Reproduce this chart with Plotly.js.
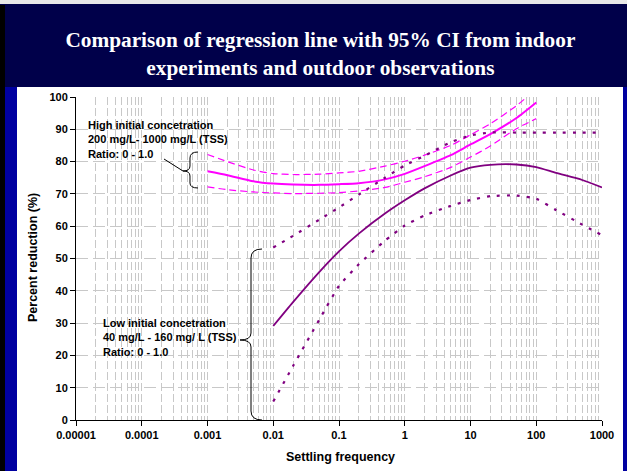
<!DOCTYPE html>
<html><head><meta charset="utf-8">
<script src="https://cdn.plot.ly/plotly-3.0.1.min.js"></script>
<style>html,body{margin:0;padding:0;background:#fff;overflow:hidden}#chart{width:627px;height:471px}</style>
</head><body><div id="chart"></div>
<script>
// ---- data ----
const xHigh = [0.001,0.002,0.005,0.01,0.02,0.05,0.1,0.2,0.5,1,2,5,10,20,50,100];
const highMean  = [77.0,75.8,73.9,73.2,72.9,72.8,73.0,73.3,74.5,76.2,78.6,82.0,85.3,88.5,93.5,98.3];
const highUpper = [82.2,80.0,77.4,76.3,76.0,76.1,76.5,77.0,78.6,80.1,82.0,85.0,88.3,91.7,97.3,102.5];
const highLower = [72.2,71.3,70.6,70.3,70.1,70.2,70.4,70.9,72.0,73.6,75.3,78.2,81.4,84.8,90.2,93.3];

const xLow = [0.01,0.02,0.05,0.1,0.2,0.5,1,2,5,10,20,50,100,200,500,1000];
const lowMean  = [29.1,36.5,45.8,52.2,57.7,63.9,68.0,71.7,75.7,78.1,79.0,79.1,78.3,76.5,74.3,72.0];
const lowUpper = [53.4,57.0,62.0,65.8,69.8,75.0,78.8,81.8,86.0,88.1,89.0,89.0,89.0,89.0,89.0,89.0];
const lowLower = [5.7,16.7,31.0,41.5,48.2,55.5,60.2,63.3,66.3,68.1,69.3,69.5,68.5,65.0,60.5,57.2];

const xTickVals = [0.00001,0.0001,0.001,0.01,0.1,1,10,100,1000];
const xTickText = ['0.00001','0.0001','0.001','0.01','0.1','1','10','100','1000'];
const yTickVals = [0,10,20,30,40,50,60,70,80,90,100];

const titleText = 'Comparison of regression line with 95% CI from indoor<br>experiments and outdoor observations';
const xTitle = 'Settling frequency';
const yTitle = 'Percent reduction (%)';
const highLabel = 'High initial concetration<br>200 mg/L- 1000 mg/L (TSS)<br>Ratio: 0 - 1.0';
const lowLabel = 'Low initial concetration<br>40 mg/L - 160 mg/ L (TSS)<br>Ratio: 0 - 1.0';

// ---- geometry helpers (pixel -> paper) ----
const W = 627, H = 471, L = 76, R = 602, T = 97, B = 420;
const X = px => (px - L) / (R - L);
const Y = py => (B - py) / (B - T);
const P = (px, py) => X(px).toFixed(4) + ',' + Y(py).toFixed(4);

const MAG = '#ff00ff', PUR = '#800080';
const traces = [
  {x:xHigh, y:highUpper, mode:'lines', line:{color:MAG, width:1.2, dash:'7px,4px', shape:'spline', smoothing:0.6}},
  {x:xHigh, y:highLower, mode:'lines', line:{color:MAG, width:1.2, dash:'7px,4px', shape:'spline', smoothing:0.6}},
  {x:xHigh, y:highMean,  mode:'lines', line:{color:MAG, width:2, shape:'spline', smoothing:0.6}},
  {x:xLow, y:lowUpper, mode:'lines', line:{color:PUR, width:2.2, dash:'3px,7px', shape:'spline', smoothing:0.5}},
  {x:xLow, y:lowLower, mode:'lines', line:{color:PUR, width:2.2, dash:'3px,7px', shape:'spline', smoothing:0.5}},
  {x:xLow, y:lowMean,  mode:'lines', line:{color:PUR, width:1.8, shape:'spline', smoothing:0.6}}
];

const SANS = 'Liberation Sans, Arial, sans-serif';
const tickFont = {family:SANS, size:11, color:'#000', weight:'bold'};
const shapes = [
  {type:'rect', xref:'paper', yref:'paper', x0:X(17), x1:X(623), y0:Y(87), y1:Y(471), fillcolor:'#ffffff', line:{width:0}, layer:'below'},
  {type:'rect', xref:'paper', yref:'paper', x0:X(5), x1:X(17), y0:Y(87), y1:Y(471), fillcolor:'#0000a0', line:{width:0}, layer:'below'},
  {type:'rect', xref:'paper', yref:'paper', x0:X(623), x1:X(627), y0:Y(87), y1:Y(471), fillcolor:'#0000a0', line:{width:0}, layer:'below'},
  {type:'rect', xref:'paper', yref:'paper', x0:X(0), x1:X(5), y0:Y(5), y1:Y(471), fillcolor:'#000000', line:{width:0}, layer:'below'},
  {type:'rect', xref:'paper', yref:'paper', x0:X(0), x1:X(627), y0:Y(0), y1:Y(4), fillcolor:'#e8e8e8', line:{width:0}, layer:'below'},
  {type:'path', xref:'paper', yref:'paper', layer:'above', line:{color:'#000', width:1},
   path:'M'+P(198,152)+' Q'+P(190,152)+' '+P(190,158)+' L'+P(190,166)+' Q'+P(190,171)+' '+P(183,171)+' Q'+P(190,171)+' '+P(190,176)+' L'+P(190,183)+' Q'+P(190,188)+' '+P(198,188)},
  {type:'line', xref:'paper', yref:'paper', x0:X(164), y0:Y(159), x1:X(183), y1:Y(171), line:{color:'#000', width:1}},
  {type:'path', xref:'paper', yref:'paper', layer:'above', line:{color:'#000', width:1},
   path:'M'+P(262,249)+' Q'+P(251,249)+' '+P(251,258)+' L'+P(251,333)+' Q'+P(251,340)+' '+P(240,340)+' Q'+P(251,340)+' '+P(251,347)+' L'+P(251,411)+' Q'+P(251,420)+' '+P(262,420)}
];

const annFont = {family:SANS, size:11, color:'#000', weight:'bold'};
const annotations = [
  {xref:'paper', yref:'paper', x:X(86), y:Y(139), xanchor:'left', yanchor:'middle', align:'left', showarrow:false,
   text:highLabel, font:annFont},
  {xref:'paper', yref:'paper', x:X(101), y:Y(337), xanchor:'left', yanchor:'middle', align:'left', showarrow:false,
   text:lowLabel, font:annFont},
  {xref:'paper', yref:'paper', x:X(33), y:Y(258), xanchor:'center', yanchor:'middle', textangle:-90, showarrow:false,
   text:yTitle, font:{family:SANS, size:12.5, color:'#000', weight:'bold'}},
  {xref:'paper', yref:'paper', x:X(340), y:Y(457), xanchor:'center', yanchor:'middle', showarrow:false,
   text:xTitle, font:{family:SANS, size:12.5, color:'#000', weight:'bold'}}
];

const layout = {
  width:W, height:H,
  margin:{l:L, r:W-R, t:T, b:H-B, pad:0},
  paper_bgcolor:'#00004a', plot_bgcolor:'rgba(0,0,0,0)',
  showlegend:false,
  title:{text:titleText, font:{family:'Liberation Serif, Times New Roman, serif', size:21.3, color:'#ffffff', weight:'bold'},
         xref:'container', x:0.511, xanchor:'center', yref:'container', y:1-47/H, yanchor:'middle'},
  xaxis:{type:'log', range:[-5,3], tickmode:'array', tickvals:xTickVals, ticktext:xTickText,
         ticks:'outside', ticklen:5, tickcolor:'#000', showline:true, linecolor:'#000', linewidth:1,
         showgrid:true, gridcolor:'#c8c8c8', griddash:'8px,3px', gridwidth:1, zeroline:false,
         tickfont:tickFont,
         minor:{dtick:'D1', showgrid:true, gridcolor:'#c8c8c8', griddash:'8px,3px', gridwidth:1, ticks:''}},
  yaxis:{range:[0,100], tickmode:'array', tickvals:yTickVals, ticks:'outside', ticklen:5, tickcolor:'#000',
         showline:true, linecolor:'#000', linewidth:1, showgrid:true, gridcolor:'#c8c8c8', griddash:'12px,5px',
         zeroline:false, tickfont:tickFont},
  shapes:shapes, annotations:annotations
};

Plotly.newPlot('chart', traces, layout, {staticPlot:true, displayModeBar:false});
</script>
</body></html>
